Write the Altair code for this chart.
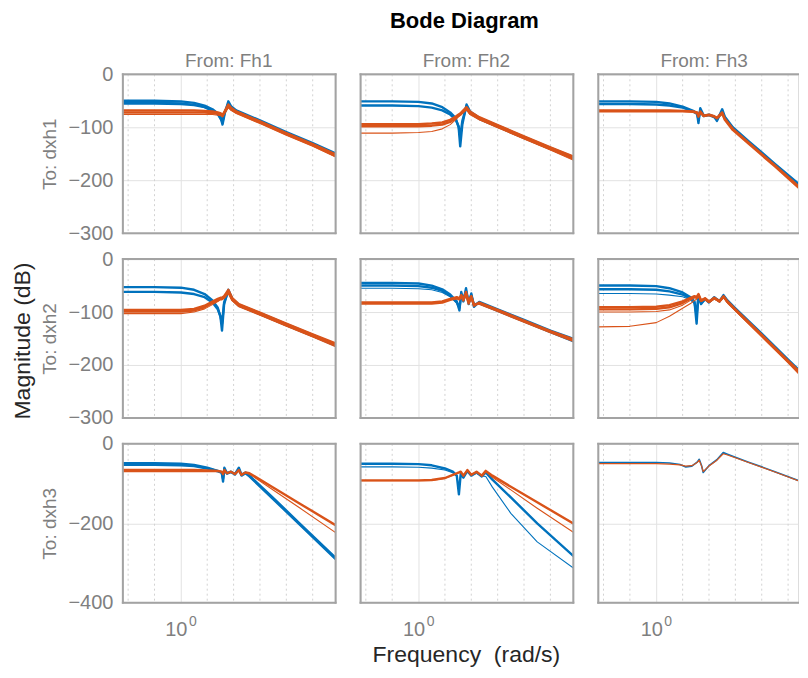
import altair as alt
import pandas as pd

# ---------------- texts ----------------
TITLE = "Bode Diagram"
X_LABEL = "Frequency \u00a0(rad/s)"
Y_LABEL = "Magnitude (dB)"
COL_TITLES = ["From: Fh1", "From: Fh2", "From: Fh3"]
ROW_TITLES = ["To: dxh1", "To: dxh2", "To: dxh3"]
Y_TICKS = [[0, -100, -200, -300], [0, -100, -200, -300], [0, -200, -400]]
X_TICK = [1.0]          # 10^0
X_TICK_BASE = "10"
X_TICK_EXP = "0"
MINOR_DECADES = [-2, -1, 1, 2, 3, 4, 5]

# ---------------- data: log10(frequency) grids and magnitudes (dB) ----------------
U11 = [-2.2, -1.0, 0.0, 0.5, 0.9, 1.2, 1.4, 1.52, 1.58, 1.66, 1.8, 1.9, 2.1, 3.0, 4.0, 5.0, 5.9]
P11_B1 = [-50, -50, -51, -54, -59, -66, -74, -84, -95, -75, -51, -60, -68, -87, -109, -130, -150]
P11_B2 = [-55, -55, -56, -58, -62, -68, -75, -85, -90, -72, -55, -62, -70, -89, -111, -132, -152]
P11_B3 = [-53, -53, -54, -57, -63, -70, -76, -80, -83, -73, -58, -64, -71, -90, -112, -133, -154]
P11_O1 = [-68, -68, -68, -68, -69, -70, -72, -74, -77, -70, -57, -63, -70, -89, -111, -132, -152]
P11_O2 = [-72, -72, -72, -72, -72, -73, -74, -76, -79, -72, -60, -66, -72, -91, -113, -134, -155]
P11_O3 = [-76, -76, -76, -76, -76, -76, -77, -78, -80, -74, -63, -68, -74, -93, -115, -136, -157]

U12 = [-2.2, -1.0, 0.0, 0.5, 0.9, 1.2, 1.4, 1.52, 1.58, 1.66, 1.82, 1.95, 2.3, 3.0, 4.0, 5.0, 5.9]
P12_B1 = [-51, -51, -52, -55, -62, -72, -82, -100, -136, -95, -57, -70, -82, -97, -118, -139, -157]
P12_B2 = [-59, -59, -60, -63, -68, -76, -85, -98, -118, -88, -60, -72, -84, -99, -120, -141, -159]
P12_O1 = [-94, -94, -94, -93, -91, -86, -80, -76, -74, -70, -62, -70, -81, -96, -117, -138, -156]
P12_O2 = [-98, -98, -98, -97, -95, -90, -83, -78, -76, -72, -65, -74, -84, -99, -120, -141, -160]
P12_O3 = [-111, -111, -110, -108, -103, -95, -86, -80, -78, -74, -67, -76, -86, -101, -122, -143, -163]

U13 = [-2.2, -1.0, 0.0, 0.5, 1.0, 1.4, 1.55, 1.6, 1.67, 1.8, 2.0, 2.2, 2.3, 2.5, 2.6, 2.9, 3.5, 4.5, 5.75]
P13_B1 = [-51, -51, -52, -55, -61, -69, -74, -92, -64, -78, -76, -80, -88, -66, -80, -100, -126, -169, -222]
P13_B2 = [-56, -56, -57, -59, -63, -70, -75, -85, -68, -79, -77, -81, -85, -70, -82, -102, -128, -171, -225]
P13_O1 = [-68, -68, -68, -68, -69, -70, -72, -80, -70, -78, -76, -79, -82, -72, -84, -103, -129, -172, -227]
P13_O2 = [-70, -70, -70, -70, -70, -71, -73, -78, -72, -79, -77, -80, -83, -74, -86, -105, -131, -174, -230]

U21 = [-2.2, -1.0, 0.0, 0.5, 0.9, 1.2, 1.4, 1.5, 1.56, 1.64, 1.8, 1.95, 2.2, 3.0, 4.0, 5.0, 5.9]
P21_B1 = [-53, -53, -54, -58, -66, -78, -92, -108, -135, -85, -58, -75, -86, -102, -123, -143, -162]
P21_B2 = [-62, -62, -63, -66, -72, -82, -95, -108, -122, -82, -60, -76, -88, -104, -125, -145, -164]
P21_O1 = [-96, -96, -96, -94, -88, -80, -75, -73, -73, -70, -58, -74, -85, -101, -122, -142, -160]
P21_O2 = [-99, -99, -99, -97, -91, -83, -78, -75, -75, -72, -62, -77, -88, -104, -125, -145, -163]
P21_O3 = [-103, -103, -103, -100, -94, -86, -80, -77, -77, -74, -65, -79, -90, -106, -127, -147, -166]

U22 = [-2.2, -1.0, 0.0, 0.5, 0.9, 1.2, 1.45, 1.55, 1.62, 1.7, 1.8, 1.9, 2.0, 2.1, 2.3, 3.0, 4.0, 5.0, 5.9]
P22_B1 = [-45, -45, -46, -50, -57, -67, -80, -97, -62, -80, -55, -85, -65, -90, -81, -95, -115, -135, -151]
P22_B2 = [-50, -50, -51, -54, -60, -69, -82, -92, -66, -78, -60, -82, -68, -86, -83, -97, -117, -137, -154]
P22_B3 = [-55, -55, -56, -58, -63, -71, -83, -88, -70, -76, -64, -80, -70, -84, -85, -99, -119, -139, -157]
P22_O1 = [-82, -82, -82, -82, -80, -75, -72, -74, -68, -76, -62, -80, -70, -88, -82, -96, -116, -136, -152]
P22_O2 = [-84, -84, -84, -84, -82, -77, -74, -76, -70, -78, -66, -84, -72, -86, -84, -98, -118, -138, -155]

U23 = [-2.2, -1.0, 0.0, 0.5, 1.0, 1.3, 1.45, 1.53, 1.6, 1.7, 1.85, 2.0, 2.2, 2.4, 2.55, 2.7, 3.0, 4.0, 5.0, 5.75]
P23_B1 = [-50, -50, -51, -55, -63, -72, -80, -122, -68, -85, -75, -82, -72, -80, -68, -78, -93, -141, -190, -226]
P23_B2 = [-57, -57, -58, -61, -67, -75, -82, -105, -70, -83, -76, -80, -74, -79, -70, -80, -95, -143, -192, -229]
P23_B3 = [-65, -65, -66, -68, -71, -77, -84, -95, -72, -81, -77, -79, -75, -78, -72, -82, -97, -145, -194, -232]
P23_O1 = [-91, -91, -90, -87, -80, -73, -70, -72, -66, -78, -74, -80, -73, -79, -70, -80, -95, -143, -192, -228]
P23_O2 = [-95, -95, -94, -91, -83, -75, -71, -73, -68, -79, -75, -81, -74, -80, -71, -81, -96, -144, -193, -230]
P23_O3 = [-100, -100, -99, -96, -87, -78, -73, -74, -69, -80, -76, -82, -75, -81, -72, -82, -97, -146, -195, -233]
P23_O4 = [-128, -127, -120, -108, -93, -84, -78, -76, -70, -80, -76, -82, -75, -81, -72, -83, -98, -147, -196, -235]

U31 = [-2.2, -1.0, 0.0, 0.5, 1.0, 1.4, 1.55, 1.6, 1.65, 1.75, 1.9, 2.05, 2.2, 2.3, 2.45, 2.6, 3.5, 4.5, 5.9]
P31_B1 = [-49, -49, -50, -53, -60, -68, -72, -95, -60, -74, -70, -76, -60, -78, -72, -80, -136, -200, -289]
P31_B2 = [-53, -53, -54, -56, -62, -69, -73, -88, -64, -75, -71, -77, -64, -80, -74, -82, -139, -203, -292]
P31_O1 = [-66, -66, -66, -66, -67, -68, -70, -76, -66, -74, -70, -76, -66, -78, -72, -74, -110, -150, -206]
P31_O2 = [-70, -70, -70, -70, -70, -70, -71, -78, -68, -75, -71, -77, -68, -79, -73, -76, -116, -161, -225]

U32 = [-2.2, -1.0, 0.0, 0.5, 1.0, 1.3, 1.45, 1.53, 1.6, 1.7, 1.85, 2.0, 2.2, 2.4, 2.55, 2.8, 3.5, 4.5, 5.9]
P32_B1 = [-50, -50, -51, -54, -62, -70, -80, -127, -75, -85, -68, -80, -72, -82, -72, -90, -135, -200, -284]
P32_B2 = [-58, -58, -59, -61, -66, -73, -82, -105, -76, -84, -70, -79, -74, -81, -82, -109, -175, -247, -314]
P32_O1 = [-92, -92, -92, -91, -86, -78, -74, -72, -70, -80, -66, -78, -70, -80, -68, -80, -108, -147, -202]
P32_O2 = [-93, -93, -93, -92, -87, -79, -75, -73, -71, -81, -67, -79, -71, -81, -70, -84, -116, -162, -224]

U33 = [-2.2, -1.0, 0.0, 0.5, 0.9, 1.12, 1.35, 1.55, 1.63, 1.72, 1.78, 2.0, 2.3, 2.54, 2.7, 3.5, 4.5, 5.75]
P33_B1 = [-47, -47, -47, -48, -52, -58, -56, -46, -39, -55, -72, -55, -40, -22, -26, -46, -70, -101]
P33_O1 = [-50, -50, -50, -51, -53, -56, -55, -47, -41, -56, -70, -56, -41, -25, -28, -47, -71, -102]

# ---------------- styles ----------------
BLUE = "#0072BD"
ORANGE = "#D95319"
THICK = 2.4
THIN = 1.1
FONT = "Liberation Sans, Arial, Helvetica, sans-serif"
LABEL_GRAY = "#7f7f7f"
DARK = "#262626"
GRID = "#e2e2e2"
MINOR = "#d2d2d2"
FRAME = "#a3a3a3"

PANELS = [
    [
        (U11, [(P11_B1, BLUE, THICK), (P11_B2, BLUE, THICK), (P11_B3, BLUE, THIN),
               (P11_O1, ORANGE, THICK), (P11_O2, ORANGE, THICK), (P11_O3, ORANGE, THIN)]),
        (U12, [(P12_B1, BLUE, THICK), (P12_B2, BLUE, THICK),
               (P12_O1, ORANGE, THICK), (P12_O2, ORANGE, THICK), (P12_O3, ORANGE, THIN)]),
        (U13, [(P13_B1, BLUE, THICK), (P13_B2, BLUE, THICK),
               (P13_O1, ORANGE, THICK), (P13_O2, ORANGE, THICK)]),
    ],
    [
        (U21, [(P21_B1, BLUE, THICK), (P21_B2, BLUE, THICK),
               (P21_O1, ORANGE, THICK), (P21_O2, ORANGE, THICK), (P21_O3, ORANGE, THIN)]),
        (U22, [(P22_B1, BLUE, THICK), (P22_B2, BLUE, THICK), (P22_B3, BLUE, THIN),
               (P22_O1, ORANGE, THICK), (P22_O2, ORANGE, THICK)]),
        (U23, [(P23_B1, BLUE, THICK), (P23_B2, BLUE, THICK), (P23_B3, BLUE, THIN),
               (P23_O1, ORANGE, THICK), (P23_O2, ORANGE, THICK), (P23_O3, ORANGE, THIN),
               (P23_O4, ORANGE, THIN)]),
    ],
    [
        (U31, [(P31_B1, BLUE, THICK), (P31_B2, BLUE, THICK),
               (P31_O1, ORANGE, THICK), (P31_O2, ORANGE, THIN)]),
        (U32, [(P32_B1, BLUE, THICK), (P32_B2, BLUE, THIN),
               (P32_O1, ORANGE, THICK), (P32_O2, ORANGE, THIN)]),
        (U33, [(P33_B1, BLUE, 1.6), (P33_O1, ORANGE, 1.2)]),
    ],
]

PX_PER_DECADE = 26.4
U_LEFT = -2.2
COL_W = [213, 213, 200]
ROW_H = 159


def one_row(**kw):
    return pd.DataFrame({k: [v] for k, v in kw.items()})


def make_panel(r, c):
    u, curves = PANELS[r][c]
    W = COL_W[c]
    H = ROW_H
    u_right = U_LEFT + W / PX_PER_DECADE
    xscale = alt.Scale(type="log", domain=[10 ** U_LEFT, 10 ** u_right], nice=False)
    yscale = alt.Scale(domain=[Y_TICKS[r][-1], 0], nice=False)

    xaxis = alt.Axis(values=X_TICK, grid=True, gridColor=GRID, gridWidth=1, ticks=False, tickSize=0,
                     domain=False, labels=(r == 2), labelExpr="'%s'" % X_TICK_BASE, labelFontSize=20,
                     labelColor=LABEL_GRAY, labelPadding=17, labelOffset=-5, labelFlush=False,
                     labelFont=FONT)
    y_axis_kwargs = dict(values=Y_TICKS[r], grid=True, gridColor=GRID, gridWidth=1, ticks=False,
                         tickSize=0, domain=False, labels=(c == 0), labelFontSize=20,
                         labelColor=LABEL_GRAY, labelPadding=10, labelFont=FONT)
    if c == 0:
        y_axis_kwargs.update(titleFontSize=19, titleFontWeight="normal", titleColor=LABEL_GRAY,
                             titlePadding=8, titleFont=FONT)
    yaxis = alt.Axis(**y_axis_kwargs)

    X = alt.X("f:Q", scale=xscale, axis=xaxis, title=None)
    Y = alt.Y("m:Q", scale=yscale, axis=yaxis, title=(ROW_TITLES[r] if c == 0 else None))

    layers = []
    minor = alt.Chart(pd.DataFrame({"f": [10.0 ** d for d in MINOR_DECADES]})).mark_rule(
        color=MINOR, strokeDash=[2, 3], strokeWidth=1, clip=True).encode(x=X)
    layers.append(minor)

    for color in (BLUE, ORANGE):
        rows = []
        for i, (vals, col, width) in enumerate(curves):
            if col != color:
                continue
            for uu, m in zip(u, vals):
                rows.append({"f": 10 ** uu, "m": m, "k": i, "w": width})
        df = pd.DataFrame(rows)
        layers.append(
            alt.Chart(df).mark_line(clip=True, color=color, strokeJoin="round").encode(
                x=X, y=Y, detail="k:N", strokeWidth=alt.StrokeWidth("w:Q", scale=None))
        )

    one = one_row(a=0)
    layers.append(alt.Chart(one).mark_rule(color=FRAME, strokeWidth=2, strokeCap="square").encode(
        x=alt.value(0), x2=alt.value(W), y=alt.value(0)))
    layers.append(alt.Chart(one).mark_rule(color=FRAME, strokeWidth=2, strokeCap="square").encode(
        x=alt.value(0), x2=alt.value(W), y=alt.value(H)))
    layers.append(alt.Chart(one).mark_rule(color=FRAME, strokeWidth=2, strokeCap="square").encode(
        x=alt.value(0), y=alt.value(0), y2=alt.value(H)))
    if c < 2:
        layers.append(alt.Chart(one).mark_rule(color=FRAME, strokeWidth=2, strokeCap="square").encode(
            x=alt.value(W), y=alt.value(0), y2=alt.value(H)))

    if r == 0:
        layers.append(alt.Chart(one_row(t=COL_TITLES[c])).mark_text(
            fontSize=19, color=LABEL_GRAY, align="center", baseline="alphabetic", font=FONT).encode(
            x=alt.value(106), y=alt.value(-7), text="t:N"))
        if c == 1:
            layers.append(alt.Chart(one_row(t=TITLE)).mark_text(
                fontSize=22, fontWeight="bold", color="#000000", align="center",
                baseline="alphabetic", font=FONT).encode(
                x=alt.value(104), y=alt.value(-46), text="t:N"))
    if r == 1 and c == 0:
        layers.append(alt.Chart(one_row(t=Y_LABEL)).mark_text(
            fontSize=23, color=DARK, align="center", baseline="alphabetic", angle=270,
            font=FONT).encode(x=alt.value(-93), y=alt.value(82), text="t:N"))
    if r == 2:
        layers.append(alt.Chart(one_row(f=X_TICK[0], t=X_TICK_EXP)).mark_text(
            fontSize=14, color=LABEL_GRAY, align="center", baseline="alphabetic", dx=12,
            font=FONT).encode(x=X, y=alt.value(H + 23), text="t:N"))
        if c == 1:
            layers.append(alt.Chart(one_row(t=X_LABEL)).mark_text(
                fontSize=23, color=DARK, align="center", baseline="alphabetic", font=FONT).encode(
                x=alt.value(106), y=alt.value(218), text="t:N"))

    return alt.layer(*layers).properties(width=W, height=H)


panels = [make_panel(r, c) for r in range(3) for c in range(3)]

chart = alt.concat(*panels, columns=3, spacing={"row": 26, "column": 25}, bounds="flush").properties(
    padding={"left": 3, "top": 1, "right": 0, "bottom": 4}
).configure_view(stroke="transparent").configure(font=FONT)

chart.save("out.html", embed_options={"renderer": "svg", "actions": False})
